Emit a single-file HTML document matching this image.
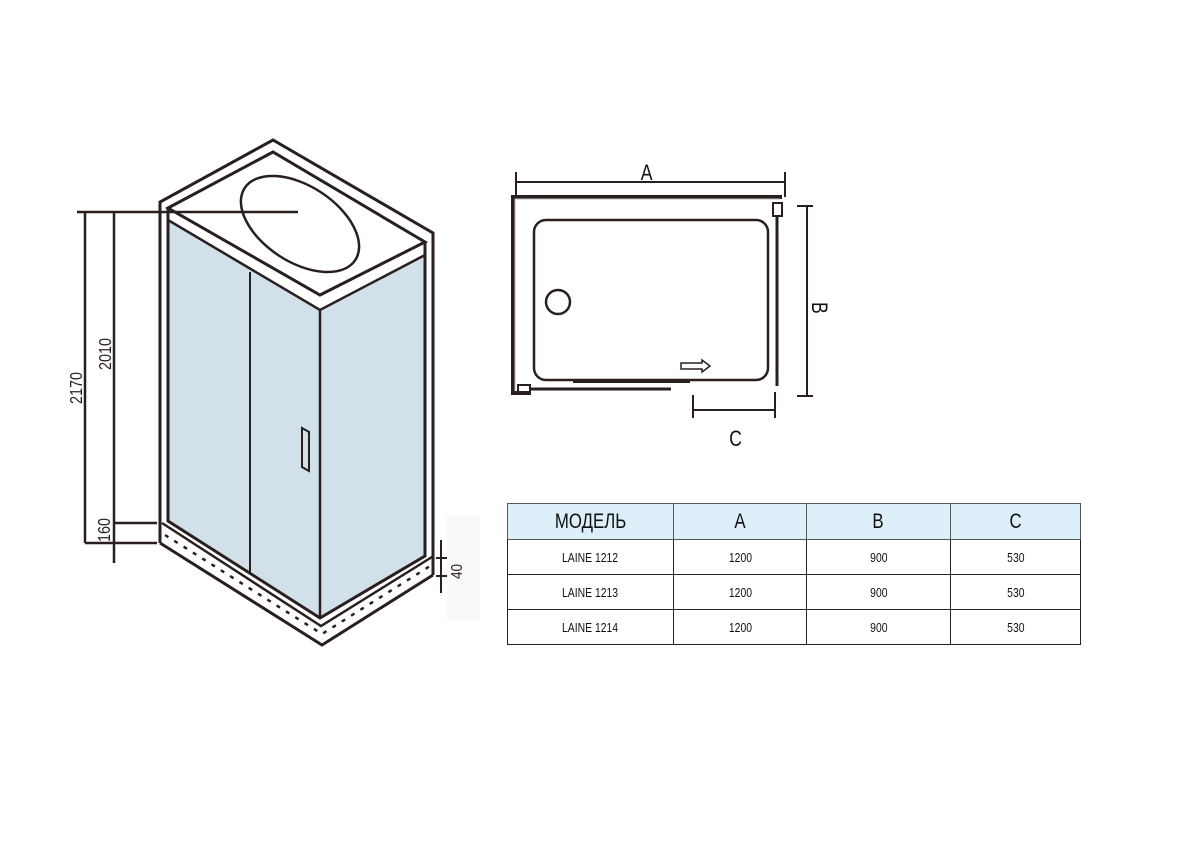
<!DOCTYPE html>
<html><head><meta charset="utf-8"><style>
html,body{margin:0;padding:0;background:#fff;width:1200px;height:849px;overflow:hidden}
svg{position:absolute;left:0;top:0}
table{position:absolute;left:507px;top:503px;width:574px;border-collapse:collapse;font-family:"Liberation Sans Narrow","Liberation Sans",sans-serif}
td{border:1.5px solid #222;text-align:center;font-size:13px;height:34px;padding:0;color:#111}
td span{display:inline-block;transform:scaleX(0.8)}
tr.h td{background:#ddeff8;font-size:21px;border-color:#555;border-width:1px;height:35px}
</style></head><body>
<svg width="1200" height="849" viewBox="0 0 1200 849" fill="none" stroke="#2a1f1f" stroke-width="3" stroke-linejoin="miter">
<rect x="447" y="515" width="33" height="105" fill="#f9faf8" stroke="none"/>
<polygon points="168,220 320,310 320,618 168,521" fill="#d2e0ea" stroke="none"/>
<polygon points="320,310 425,255 425,556 320,618" fill="#d2e0ea" stroke="none"/>
<polyline points="160,543 160,202 273,140 433,233 433,575"/>
<polygon points="168,208 273,152 425,242 320,295"/>
<polyline points="168,208 168,521 320,618 425,556 425,242"/>
<polyline points="168,220 320,310 425,255" stroke-width="2.5"/>
<line x1="320" y1="310" x2="320" y2="618" stroke-width="2.5"/>
<line x1="250" y1="272" x2="250" y2="573" stroke-width="2"/>
<polygon points="302,428 309,432 309,471 302,467" stroke-width="2"/>
<ellipse cx="300" cy="224" rx="66" ry="38" transform="rotate(33 300 224)" stroke-width="2.5"/>
<polyline points="162,523 321,626 432,557" stroke-width="2.5"/>
<polyline points="160,543 322,645 433,575"/>
<polyline points="165,535 322,634 430,566" stroke-width="2.5" stroke-dasharray="4,7"/>
<line x1="77" y1="212" x2="298" y2="212" stroke-width="2.5"/>
<line x1="85" y1="212" x2="85" y2="543" stroke-width="2.5"/>
<line x1="114" y1="212" x2="114" y2="563" stroke-width="2.5"/>
<line x1="114" y1="523" x2="157" y2="523" stroke-width="2.5"/>
<line x1="85" y1="543" x2="157" y2="543" stroke-width="2.5"/>
<g fill="#2a1f1f" stroke="none" font-family="Liberation Sans Narrow, Liberation Sans, sans-serif" font-size="18">
<text transform="translate(82,404) rotate(-90) scale(0.8,1)">2170</text>
<text transform="translate(111,370) rotate(-90) scale(0.8,1)">2010</text>
<text transform="translate(110,542) rotate(-90) scale(0.8,1)">160</text>
<text transform="translate(462,579) rotate(-90) scale(0.85,1)" font-size="16">40</text>
</g>
<line x1="441" y1="540" x2="441" y2="593" stroke-width="2"/>
<line x1="436" y1="558" x2="447" y2="558" stroke-width="2"/>
<line x1="436" y1="576" x2="447" y2="576" stroke-width="2"/>
<line x1="516" y1="182" x2="785" y2="182" stroke-width="2"/>
<line x1="516" y1="172" x2="516" y2="195" stroke-width="2"/>
<line x1="785" y1="172" x2="785" y2="197" stroke-width="2"/>
<polyline points="782,197 513,197 513,393 530,393" stroke-width="4"/>
<polyline points="780,199 515,199 515,391" stroke="#bbb" stroke-width="1"/>
<rect x="773" y="203" width="9" height="13" stroke-width="2"/>
<rect x="518" y="385" width="12" height="9" stroke-width="2"/>
<line x1="777" y1="216" x2="777" y2="386" stroke-width="3"/>
<rect x="534" y="220" width="234" height="160" rx="12" stroke-width="2.5"/>
<circle cx="558" cy="302" r="12" stroke-width="2.5"/>
<polygon points="681,363 702,363 702,360 710,366 702,372 702,369 681,369" stroke-width="1.5"/>
<line x1="573" y1="381" x2="690" y2="381" stroke-width="4"/>
<line x1="530" y1="389" x2="671" y2="389" stroke-width="3"/>
<line x1="807" y1="206" x2="807" y2="396" stroke-width="2"/>
<line x1="797" y1="206" x2="813" y2="206" stroke-width="2"/>
<line x1="797" y1="396" x2="813" y2="396" stroke-width="2"/>
<line x1="693" y1="410" x2="775" y2="410" stroke-width="2"/>
<line x1="693" y1="395" x2="693" y2="418" stroke-width="2"/>
<line x1="775" y1="392" x2="775" y2="418" stroke-width="2"/>
<g fill="#111" stroke="none" font-family="Liberation Sans Narrow, Liberation Sans, sans-serif" font-size="22">
<text x="641" y="180" transform="translate(128,0) scale(0.8,1)">A</text>
<text transform="translate(812,302) rotate(90) scale(0.8,1)">B</text>
<text x="729" y="446" transform="translate(146,0) scale(0.8,1)">C</text>
</g>
</svg>
<table>
<tr class="h"><td style="width:165px"><span>МОДЕЛЬ</span></td><td style="width:132px"><span>A</span></td><td style="width:143px"><span>B</span></td><td><span>C</span></td></tr>
<tr><td><span>LAINE 1212</span></td><td><span>1200</span></td><td><span>900</span></td><td><span>530</span></td></tr>
<tr><td><span>LAINE 1213</span></td><td><span>1200</span></td><td><span>900</span></td><td><span>530</span></td></tr>
<tr><td style="height:28px"><span>LAINE 1214</span></td><td><span>1200</span></td><td><span>900</span></td><td><span>530</span></td></tr>
</table>
</body></html>
